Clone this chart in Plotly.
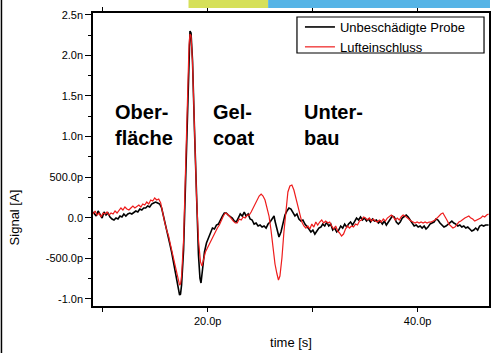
import plotly.graph_objects as go

# time in ps, signal in pA
t_black = [9.08, 9.37, 9.56, 9.75, 9.94, 10.12, 10.31, 10.50, 10.69, 10.88, 11.07, 11.26, 11.45, 11.64, 11.83,
           12.01, 12.20, 12.39, 12.58, 12.77, 12.96, 13.15, 13.34, 13.53, 13.72, 13.90, 14.09, 14.28, 14.47,
           14.66, 14.85, 15.04, 15.23, 15.42, 15.61, 15.80, 15.99, 16.18, 16.37, 16.56, 16.75, 16.94, 17.13,
           17.22, 17.32, 17.41, 17.51, 17.70, 17.89, 18.08, 18.22, 18.31, 18.41, 18.55, 18.74, 18.93, 19.12,
           19.26, 19.36, 19.50, 19.69, 19.88, 20.07, 20.26, 20.45, 20.64, 20.83, 21.02, 21.21, 21.40, 21.58,
           21.77, 21.96, 22.15, 22.34, 22.53, 22.72, 22.91, 23.10, 23.29, 23.48, 23.66, 23.85, 24.04, 24.23,
           24.42, 24.61, 24.80, 24.99, 25.18, 25.37, 25.56, 25.75, 25.94, 26.13, 26.32, 26.41, 26.60, 26.79,
           26.98, 27.17, 27.36, 27.55, 27.74, 27.93, 28.12, 28.31, 28.50, 28.69, 28.88, 29.07, 29.26, 29.45,
           29.64, 29.83, 30.02, 30.21, 30.40, 30.59, 30.78, 30.96, 31.15, 31.34, 31.53, 31.72, 31.91, 32.10,
           32.29, 32.48, 32.67, 32.86, 33.05, 33.24, 33.42, 33.61, 33.80, 33.99, 34.18, 34.37, 34.56, 34.75,
           34.94, 35.13, 35.32, 35.51, 35.70, 35.88, 36.07, 36.26, 36.45, 36.64, 36.83, 37.02, 37.21, 37.40,
           37.59, 37.78, 37.97, 38.16, 38.34, 38.53, 38.72, 38.91, 39.10, 39.29, 39.48, 39.67, 39.86, 40.05,
           40.24, 40.43, 40.62, 40.80, 40.99, 41.18, 41.37, 41.56, 41.75, 41.94, 42.13, 42.32, 42.51, 42.70,
           42.89, 43.07, 43.26, 43.45, 43.64, 43.83, 44.02, 44.21, 44.40, 44.59, 44.78, 44.97, 45.16, 45.35,
           45.53, 45.72, 45.91, 46.10, 46.29, 46.48, 46.76]
v_black = [70, 21, 83, 46, -4, 70, 33, 58, 9, -16, -28, -4, -16, 21, 9,
           46, 21, 46, 58, 46, 70, 83, 70, 107, 95, 120, 120, 144, 132,
           169, 181, 193, 181, 169, 120, 21, -102, -201, -312, -422, -558, -693, -829,
           -903, -952, -940, -829, -398, 464, 1572, 2127, 2299, 2275, 1942, 1079, 216, -461,
           -743, -804, -644, -422, -312, -250, -176, -127, -139, -90, -78, -16, 21, 58,
           58, 33, 9, -4, -41, -53, -4, 46, 21, 70, 21, 46, -16, -28,
           -78, -65, -102, -90, -115, -102, -127, -78, -53, -16, 21, -41, -152, -238,
           -176, -53, 33, 83, 120, 107, 70, 21, 46, -16, -41, -28, -78, -102,
           -139, -176, -152, -201, -164, -127, -115, -78, -102, -53, -102, -78, -152, -127,
           -176, -152, -102, -127, -78, -115, -78, -53, -90, -53, -4, -28, 9, -28,
           -4, -41, -16, -53, -16, -41, -28, -65, -41, -78, -41, -90, -53, -4,
           21, 9, -53, -78, -53, -4, 21, 33, 9, -28, -78, -102, -90, -115,
           -102, -127, -102, -139, -115, -78, -65, -53, -16, -28, -65, -90, -115, -102,
           -78, -53, -41, -65, -78, -102, -90, -115, -102, -127, -115, -139, -164, -152,
           -127, -152, -102, -90, -102, -90, -90]

t_red = [9.08, 9.27, 9.46, 9.65, 9.84, 10.03, 10.22, 10.41, 10.60, 10.79, 10.98, 11.17, 11.36, 11.55, 11.73,
         11.92, 12.11, 12.30, 12.49, 12.68, 12.87, 13.06, 13.25, 13.44, 13.63, 13.81, 14.00, 14.19, 14.38,
         14.57, 14.76, 14.95, 15.14, 15.33, 15.52, 15.71, 15.90, 16.09, 16.27, 16.46, 16.65, 16.84, 17.03,
         17.22, 17.32, 17.41, 17.51, 17.70, 17.89, 18.08, 18.22, 18.31, 18.41, 18.55, 18.74, 18.93, 19.12,
         19.31, 19.45, 19.59, 19.78, 19.97, 20.16, 20.35, 20.54, 20.73, 20.92, 21.11, 21.30, 21.49, 21.68,
         21.87, 22.06, 22.25, 22.44, 22.63, 22.81, 23.00, 23.19, 23.38, 23.57, 23.76, 23.95, 24.14, 24.33,
         24.52, 24.71, 24.90, 25.09, 25.27, 25.46, 25.65, 25.84, 26.03, 26.22, 26.41, 26.60, 26.74, 26.88,
         27.07, 27.26, 27.45, 27.64, 27.83, 28.02, 28.21, 28.40, 28.59, 28.78, 28.97, 29.16, 29.35, 29.54,
         29.73, 29.92, 30.11, 30.30, 30.48, 30.67, 30.86, 31.05, 31.24, 31.43, 31.62, 31.81, 32.00, 32.19,
         32.38, 32.56, 32.75, 32.94, 33.13, 33.32, 33.51, 33.70, 33.89, 34.08, 34.27, 34.46, 34.65, 34.84,
         35.03, 35.22, 35.41, 35.60, 35.78, 35.97, 36.16, 36.35, 36.54, 36.73, 36.92, 37.11, 37.30, 37.49,
         37.68, 37.87, 38.06, 38.25, 38.43, 38.62, 38.81, 39.00, 39.19, 39.38, 39.57, 39.76, 39.95, 40.14,
         40.33, 40.52, 40.71, 40.90, 41.09, 41.28, 41.47, 41.66, 41.85, 42.03, 42.22, 42.41, 42.60, 42.79,
         42.98, 43.17, 43.36, 43.55, 43.74, 43.93, 44.12, 44.31, 44.50, 44.69, 44.88, 45.07, 45.25, 45.44,
         45.63, 45.82, 46.01, 46.20, 46.39, 46.58, 46.76]
v_red = [46, 83, 33, 58, 9, 58, 46, 70, 33, 58, 46, 83, 58, 95, 120,
         95, 132, 107, 95, 120, 144, 120, 144, 156, 132, 169, 156, 193, 169,
         218, 206, 243, 218, 230, 181, 83, -53, -152, -225, -336, -447, -570, -693,
         -792, -829, -817, -718, -275, 587, 1572, 2127, 2262, 2238, 1917, 1079, 277, -275,
         -545, -595, -521, -422, -373, -324, -262, -213, -164, -127, -90, -28, 21, 58,
         46, 21, -16, -41, -65, -65, -16, -28, 9, -4, 33, 33, 70, 120,
         169, 218, 267, 292, 267, 218, 132, 21, -152, -373, -570, -693, -767, -718,
         -496, -176, 120, 317, 391, 403, 341, 243, 132, 21, -53, -102, -127, -102,
         -139, -78, -115, -53, -90, -53, -28, -65, -41, -65, -53, -102, -139, -102,
         -164, -188, -225, -201, -139, -102, -127, -102, -115, -78, -90, -41, -28, 9,
         -4, -28, -4, -41, -16, -41, -53, -28, -53, -16, -41, -4, 21, 33,
         9, -28, -4, -28, 9, 33, 21, -4, -16, -41, -53, -65, -53, -65,
         -53, -65, -53, -65, -53, -53, -41, -28, -4, 21, 46, 58, 21, -28,
         -78, -102, -127, -115, -78, -53, -41, -16, -4, 9, 21, -4, -16, -41,
         -28, -16, -4, 21, 9, 33, 46]

series_names = ["Unbeschädigte Probe", "Lufteinschluss"]

x_tickvals = [10, 20, 30, 40]
x_ticktext = ["", "20.0p", "", "40.0p"]
y_tickvals = [-1000, -500, 0, 500, 1000, 1500, 2000, 2500]
y_ticktext = ["-1.0n", "-500.0p", "0.0", "500.0p", "1.0n", "1.5n", "2.0n", "2.5n"]
y_minor = [-750, -250, 250, 750, 1250, 1750, 2250]

labels = ["Ober-<br>fläche", "Gel-<br>coat", "Unter-<br>bau"]
label_x = [11.02, 20.32, 29.0]
label_y = [1140, 1140, 1140]

FONT = "Liberation Sans, Arial"

fig = go.Figure()
fig.add_trace(go.Scatter(x=t_black, y=v_black, mode="lines", name=series_names[0],
                         line=dict(color="black", width=1.6)))
fig.add_trace(go.Scatter(x=t_red, y=v_red, mode="lines", name=series_names[1],
                         line=dict(color="#ee1c1c", width=1.2)))
# invisible trace to carry the top axis
fig.add_trace(go.Scatter(x=[t_black[0]], y=[v_black[0]], xaxis="x2", mode="lines",
                         line=dict(width=0), showlegend=False, hoverinfo="skip"))

for txt, lx, ly in zip(labels, label_x, label_y):
    bold = "<b>" + txt.replace("<br>", "</b><br><b>") + "</b>"
    fig.add_annotation(x=lx, y=ly, text=bold, showarrow=False, xanchor="left", yanchor="middle",
                       align="left", font=dict(family=FONT, size=20, color="black"))

# y axis title placed as in the reference (lower than centre)
fig.add_annotation(xref="paper", yref="paper", x=(15 - 93) / 398, y=(306 - 217) / 293,
                   text="Signal [A]", textangle=-90, showarrow=False,
                   xanchor="center", yanchor="middle", font=dict(family=FONT, size=13, color="black"))

xr = [9.07, 46.8]
fig.update_layout(
    width=492, height=353,
    margin=dict(l=93, r=1, t=13, b=47),
    paper_bgcolor="white", plot_bgcolor="white",
    font=dict(family=FONT, size=11, color="black"),
    xaxis=dict(range=xr, tickmode="array", tickvals=x_tickvals, ticktext=x_ticktext,
               ticks="outside", ticklen=4, tickwidth=1, tickcolor="black",
               showline=True, linecolor="black", linewidth=1.5, showgrid=False, zeroline=False,
               title=dict(text="time [s]", font=dict(size=13), standoff=12)),
    xaxis2=dict(range=xr, overlaying="x", side="top", matches="x", tickmode="array",
                tickvals=x_tickvals, showticklabels=False, ticks="outside", ticklen=4,
                tickcolor="black", showline=True, linecolor="black", linewidth=1.5,
                showgrid=False, zeroline=False),
    yaxis=dict(range=[-1087, 2521], tickmode="array", tickvals=y_tickvals, ticktext=y_ticktext,
               ticks="outside", ticklen=6, tickwidth=1, tickcolor="black",
               minor=dict(tickmode="array", tickvals=y_minor, ticks="outside", ticklen=3,
                          tickcolor="black", showgrid=False),
               showline=True, mirror=True, linecolor="black", linewidth=1.5,
               showgrid=False, zeroline=False),
    legend=dict(x=(301 - 93) / 398, y=1 + (13 - 12) / 293, xanchor="left", yanchor="top",
                bgcolor="rgba(0,0,0,0)", borderwidth=0, font=dict(size=13),
                tracegroupgap=0, itemwidth=30),
    showlegend=True,
)
# legend frame
fig.add_shape(type="rect", xref="paper", yref="paper", x0=(298 - 93) / 398, x1=(486 - 93) / 398,
              y0=1 - (53 - 13) / 293, y1=1 - (17 - 13) / 293, line=dict(color="black", width=1.2),
              fillcolor="white", layer="below")
# decorative header bars and left frame line
fig.add_shape(type="rect", xref="paper", yref="paper", x0=(189 - 93) / 398, x1=(269 - 93) / 398,
              y0=1 + 5 / 293, y1=1 + 13 / 293, fillcolor="#d6e05a", line=dict(width=0), layer="above")
fig.add_shape(type="rect", xref="paper", yref="paper", x0=(269 - 93) / 398, x1=(492 - 93) / 398,
              y0=1 + 5 / 293, y1=1 + 13 / 293, fillcolor="#56b4e6", line=dict(width=0), layer="above")
fig.add_shape(type="line", xref="paper", yref="paper", x0=(1 - 93) / 398, x1=(1 - 93) / 398,
              y0=-47 / 293, y1=1 + 13 / 293, line=dict(color="black", width=1.5))

fig.write_html("out.html")
